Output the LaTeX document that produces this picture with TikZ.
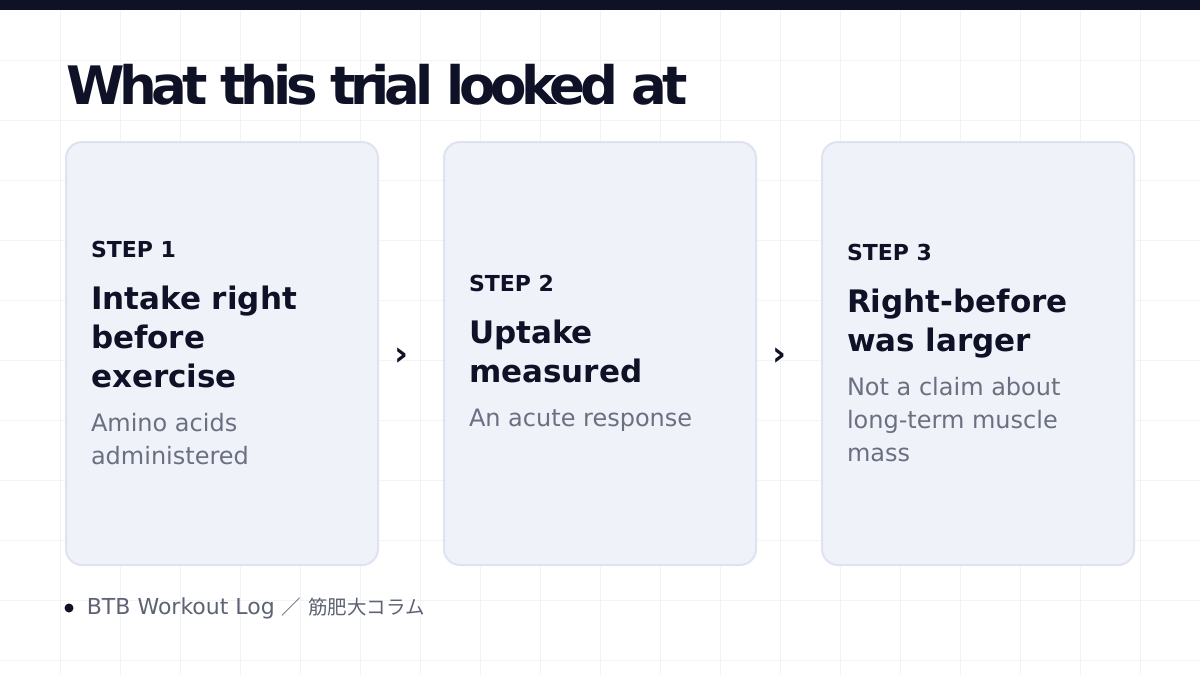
\documentclass[tikz,border=0pt]{standalone}
\usepackage{fontspec}
\setmainfont{DejaVu Sans}
\newfontfamily\jpfont{Noto Sans CJK JP}
\newfontfamily\headfont[LetterSpace=-10]{DejaVu Sans}
\usepackage{xcolor}
\usepackage{tikz}
\usetikzlibrary{positioning, calc}

\definecolor{ink}{HTML}{0F1226}
\definecolor{muted}{HTML}{6B7081}
\definecolor{footgrey}{HTML}{5E6374}
\definecolor{cardfill}{HTML}{F0F2FA}
\definecolor{cardline}{HTML}{DFE3EF}
\definecolor{gridline}{HTML}{F2F3F6}

\newcommand{\steptag}[1]{{\fontsize{22}{26}\selectfont\spaceskip=0pt\xspaceskip=0pt\bfseries #1\par}\vspace{13pt}}
\newcommand{\stephead}[1]{{\fontsize{31}{39}\selectfont\spaceskip=0pt\xspaceskip=0pt\bfseries #1\par}\vspace{11pt}}
\newcommand{\stepnote}[1]{{\fontsize{24}{33}\selectfont\spaceskip=0pt\xspaceskip=0pt\color{muted}#1\par}}

\begin{document}
\begin{tikzpicture}[x=1pt, y=-1pt, node distance=64pt, every node/.style={text=ink}]
    \tikzstyle{card}=[rectangle, draw=cardline, line width=2pt, fill=cardfill, rounded corners=16pt, minimum width=312pt, minimum height=423pt, text width=262pt, inner xsep=25pt, inner ysep=0pt, align=left]
    \tikzstyle{chevron}=[inner sep=0pt, font=\fontsize{34}{34}\selectfont\bfseries]
    \useasboundingbox (0,0) rectangle (1200,675);
    \fill[white] (0,0) rectangle (1200,675);
    \foreach \g in {60,120,...,1140} \draw[gridline, line width=1pt] (\g,0) -- (\g,675);
    \foreach \g in {60,120,...,660} \draw[gridline, line width=1pt] (0,\g) -- (1200,\g);
    \fill[ink] (0,0) rectangle (1200,10);
    \node[anchor=base west, inner sep=0pt, font=\headfont\bfseries\fontsize{53}{60}\selectfont] (title) at (66,104) {What this trial looked at};
    \node[card] (step1) at (222,353.5) {\steptag{STEP 1}\stephead{Intake right\\before\\exercise}\stepnote{Amino acids\\administered}};
    \node[card, right=of step1] (step2) {\steptag{STEP 2}\stephead{Uptake\\measured}\stepnote{An acute response}};
    \node[card, right=of step2] (step3) {\steptag{STEP 3}\stephead{Right-before\\was larger}\stepnote{Not a claim about\\long-term muscle\\mass}};
    \node[chevron, right=15pt of step1, yshift=-3pt] (next1) {›};
    \node[chevron, right=15pt of step2, yshift=-3pt] (next2) {›};
    \node[circle, fill=ink, inner sep=0pt, minimum size=9pt] (dot) at (69,608) {};
    \node[right=13pt of dot, inner sep=0pt, text=footgrey, font=\fontsize{22}{26}\selectfont] (credit) {BTB Workout Log {\jpfont\fontsize{19.5}{24}\selectfont ／} {\jpfont\fontsize{19.5}{24}\selectfont 筋肥大コラム}};
  \end{tikzpicture}
\end{document}
